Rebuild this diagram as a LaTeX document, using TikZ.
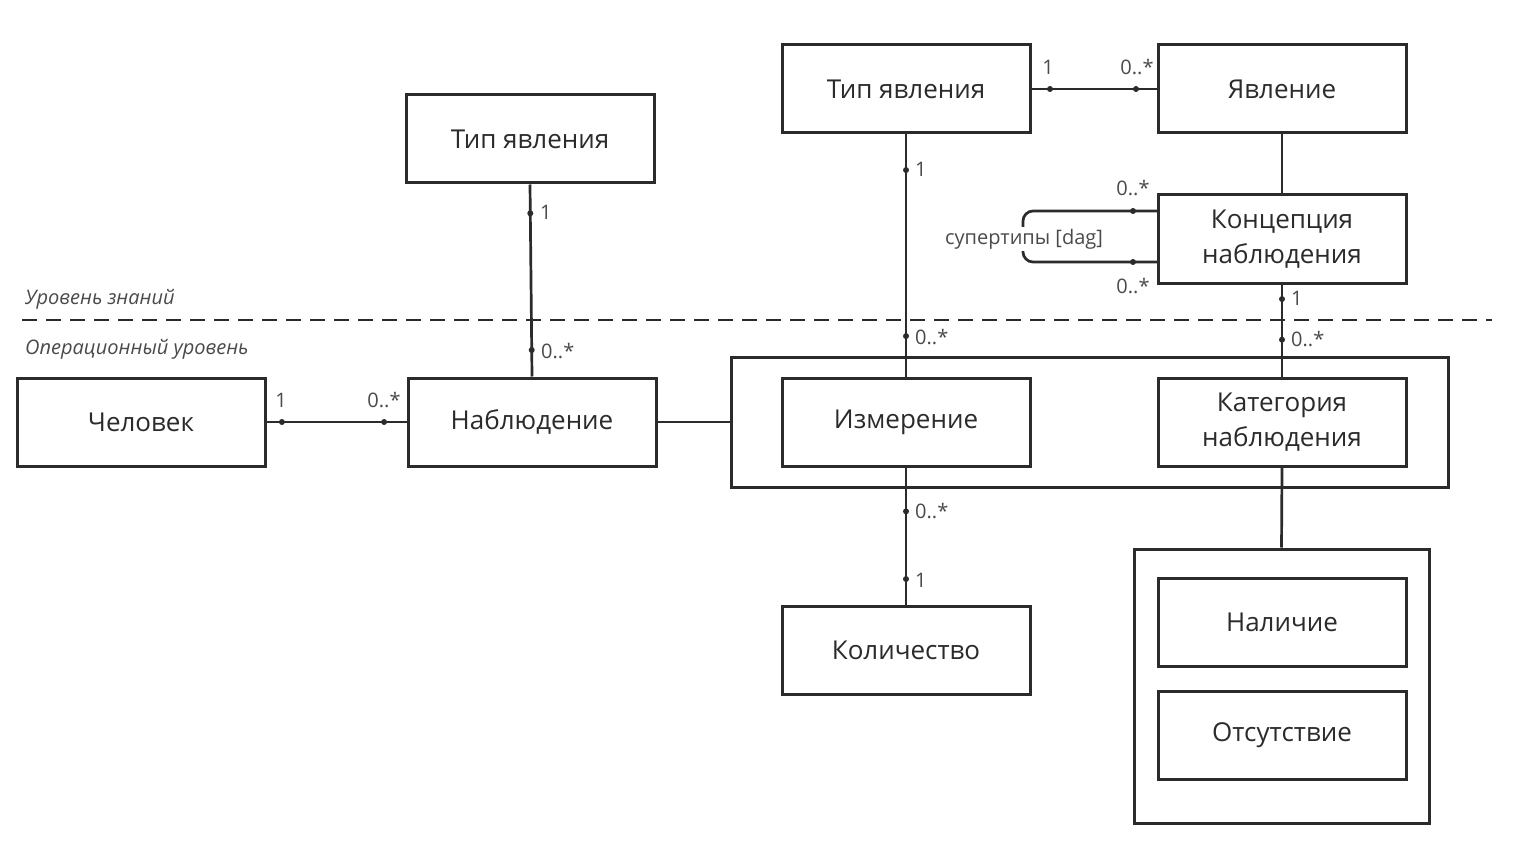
\documentclass[tikz,border=0pt]{standalone}
\usepackage{fontspec}
\setmainfont{Open Sans}
\begin{document}
\begin{tikzpicture}[x=1pt,y=-1pt,
  box/.style={draw=linec,line width=3pt,minimum width=248pt,minimum height=88pt,inner sep=0pt,align=center,text=txt,font=\fontsize{26}{35}\selectfont},
  frame/.style={draw=linec,line width=3pt},
  conn/.style={draw=linec,line width=2.7pt},
  dot/.style={circle,fill=linec,inner sep=0pt,minimum size=6pt},
  lab/.style={text=labc,font=\fontsize{20}{24}\selectfont,inner sep=0pt},
  lvl/.style={text=labc,font=\itshape\fontsize{20}{24}\selectfont,inner sep=0pt,anchor=west}]
\definecolor{linec}{HTML}{2B2B2B}
\definecolor{txt}{HTML}{2B2B2B}
\definecolor{labc}{HTML}{4A4A4A}
\useasboundingbox[fill=white] (0,0) rectangle (1514,850);

% boxes
\node[box] (tip1) at (530,139) {Тип явления};
\node[box] (tip2) at (906,89) {Тип явления};
\node[box] (yav) at (1282,89) {Явление};
\node[box] (konc) at (1282,239) {Концепция\\наблюдения};
\node[box] (chel) at (141,422) {Человек};
\node[box] (nabl) at (532,422) {Наблюдение};
\node[box] (izm) at (906,422) {Измерение};
\node[box] (kat) at (1282,422) {Категория\\наблюдения};
\node[box] (kol) at (906,650) {Количество};
\node[box] (nal) at (1282,622) {Наличие};
\node[box] (ots) at (1282,735) {Отсутствие};

% outer frames
\node[frame,minimum width=717pt,minimum height=130pt,inner sep=0pt] (grp) at (1089.5,422) {};
\node[frame,minimum width=295pt,minimum height=274pt,inner sep=0pt] (grp2) at (1281.5,686) {};

% level line
\coordinate (dl) at (22,320);
\coordinate (dr) at (1492,320);
\draw[linec,line width=2.8pt,dash pattern=on 15pt off 9pt] (dl) -- (dr);
\node[lvl] (lz) at (25,299) {Уровень знаний};
\node[lvl] (lo) at (25,349) {Операционный уровень};

% Тип явления -> Наблюдение
\draw[conn] (tip1.south) -- (nabl.north)
  node[dot,pos=0.15] {} node[dot,pos=0.862] {};
\node[lab,anchor=west] at (540,212) {1};
\node[lab,anchor=west] at (541,351) {0..*};

% Человек -- Наблюдение
\draw[conn] (chel.east) -- (nabl.west)
  node[dot,pos=0.11] {} node[dot,pos=0.84] {};
\node[lab] at (281,400) {1};
\node[lab] at (384,400) {0..*};

% Наблюдение -- group
\draw[conn] (nabl.east) -- (grp.west);

% Тип явления -- Измерение
\draw[conn] (tip2.south) -- (izm.north)
  node[dot,pos=0.147] {} node[dot,pos=0.833] {};
\node[lab,anchor=west] at (915,169) {1};
\node[lab,anchor=west] at (915,337) {0..*};

% Тип явления -- Явление
\draw[conn] (tip2.east) -- (yav.west)
  node[dot,pos=0.148] {} node[dot,pos=0.836] {};
\node[lab] at (1048,67) {1};
\node[lab] at (1137,67) {0..*};

% Явление -- Концепция
\draw[conn] (yav.south) -- (konc.north);

% self loop
\coordinate (la) at (1158,211);
\coordinate (lb) at (1158,262);
\coordinate (lc) at (1023,211);
\coordinate (ld) at (1023,262);
\draw[conn,rounded corners=10pt] (la) -- (lc) -- (ld) -- (lb);
\node[dot] at (1133,211) {};
\node[dot] at (1133,262) {};
\node[lab] at (1133,188) {0..*};
\node[lab] at (1133,286) {0..*};
\node[lab,fill=white,inner sep=2pt] (sup) at (1024,239) {супертипы [dag]};

% Концепция -- Категория
\draw[conn] (konc.south) -- (kat.north)
  node[dot,pos=0.158] {} node[dot,pos=0.6] {};
\node[lab,anchor=west] at (1291,298) {1};
\node[lab,anchor=west] at (1291,339) {0..*};

% Измерение -- Количество
\draw[conn] (izm.south) -- (kol.north)
  node[dot,pos=0.32] {} node[dot,pos=0.814] {};
\node[lab,anchor=west] at (915,511) {0..*};
\node[lab,anchor=west] at (915,580) {1};

% Категория -- group2
\draw[conn] (kat.south) -- (grp2.north);
\end{tikzpicture}
\end{document}
